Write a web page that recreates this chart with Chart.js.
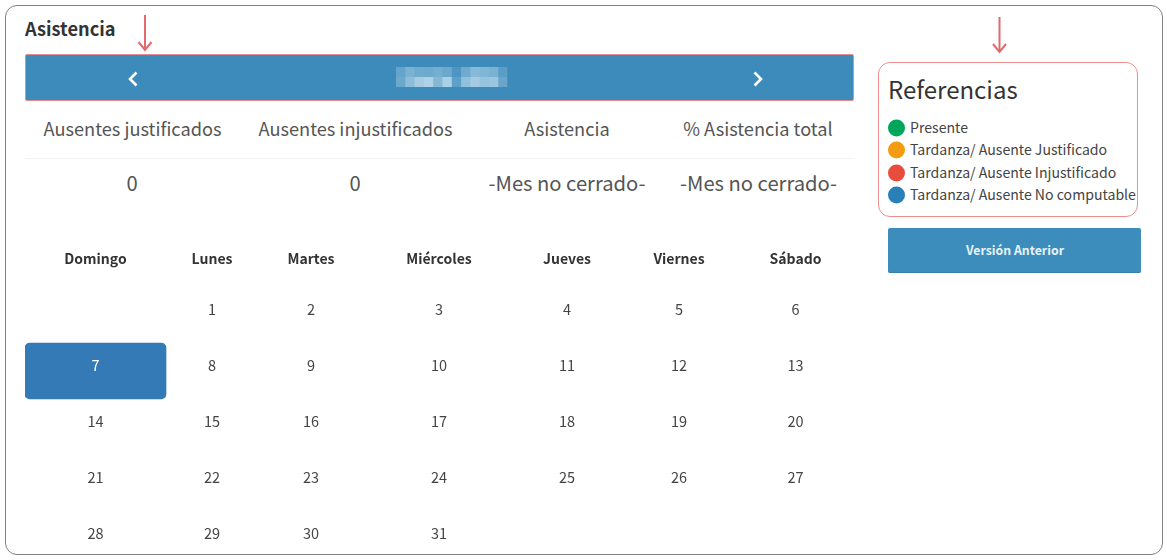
<!DOCTYPE html>
<html lang="es">
<head>
<meta charset="utf-8">
<title>Asistencia</title>
<script src="https://cdn.jsdelivr.net/npm/chart.js@4"></script>
<style>
html,body{margin:0;padding:0;background:#fff;width:1167px;height:560px;overflow:hidden;font-family:"Noto Sans CJK SC","Noto Sans",sans-serif;color:#333}
.a{position:absolute;white-space:nowrap}
.c{transform:translate(-50%,-50%)}
.m{transform:translateY(-50%)}
#frame{left:5px;top:5px;width:1156px;height:548px;border:1.5px solid #808080;border-radius:12px;box-sizing:content-box}
#band{left:25px;top:54px;width:829px;height:47px;background:#3d8bba;border:1px solid #e58c8e;box-sizing:border-box;border-radius:2px}
#rule{left:25px;top:158px;width:829px;height:1px;background:#f1f1f1}
#refs{left:878px;top:62px;width:260px;height:155px;border:1px solid #ea8e8e;border-radius:12px;box-sizing:border-box}
#btn{left:888px;top:228px;width:253px;height:45px;background:#3c8dbc;border-bottom:1px solid #367fa9;border-radius:2px;box-sizing:border-box}
.stat{font-size:18.2px;color:#555}
.val{font-size:20.2px;color:#555}
.li{font-size:14.1px;color:#444;left:910px}
.dot{width:17px;height:17px;border-radius:50%;left:888px}
#wrap{left:25px;top:240px;width:829px;height:320px}
</style>
</head>
<body>
<div class="a" id="frame"></div>
<div class="a m" style="left:25px;top:28px;font-size:18.2px;font-weight:700;color:#333">Asistencia</div>
<svg class="a" style="left:0;top:0" width="1167" height="110" fill="none">
  <path d="M145 15V49M138.5 42L145 50L151.5 42" stroke="#e06a6c" stroke-width="2"/>
  <path d="M999.5 17V51M993 44L999.5 52L1006 44" stroke="#e06a6c" stroke-width="2"/>
</svg>
<div class="a" id="band"></div>
<svg class="a" style="left:0;top:54px;filter:blur(.5px)" width="1167" height="47">
  <g transform="translate(396,13)">
    <rect x="0" width="10" height="10" fill="#66a5cb"/><rect x="9.3" width="10" height="10" fill="#7ab2d2"/><rect x="18.6" width="10" height="10" fill="#6fabce"/><rect x="27.9" width="10" height="10" fill="#6eaacd"/><rect x="37.2" width="10" height="10" fill="#74aed0"/><rect x="46.5" width="10" height="10" fill="#6ca8cd"/><rect x="55.8" width="10" height="10" fill="#4f95c1"/><rect x="65.1" width="10" height="10" fill="#6fabd0"/><rect x="74.4" width="10" height="10" fill="#86bad8"/><rect x="83.7" width="10" height="10" fill="#7fb5d5"/><rect x="93" width="10" height="10" fill="#7ab2d3"/><rect x="102.3" width="9" height="10" fill="#5a9dc6"/>
    <rect x="0" y="10" width="10" height="10" fill="#6aa8ce"/><rect x="9.3" y="10" width="10" height="10" fill="#8dbdd9"/><rect x="18.6" y="10" width="10" height="10" fill="#a6cce2"/><rect x="27.9" y="10" width="10" height="10" fill="#afd2e6"/><rect x="37.2" y="10" width="10" height="10" fill="#86b8d6"/><rect x="46.5" y="10" width="10" height="10" fill="#aad0e5"/><rect x="55.8" y="10" width="10" height="10" fill="#5da0c8"/><rect x="65.1" y="10" width="10" height="10" fill="#8fc0dc"/><rect x="74.4" y="10" width="10" height="10" fill="#a5cbe2"/><rect x="83.7" y="10" width="10" height="10" fill="#96c3dd"/><rect x="93" y="10" width="10" height="10" fill="#9cc6df"/><rect x="102.3" y="10" width="9" height="10" fill="#6aa6cb"/>
  </g>
</svg>
<svg class="a" style="left:0;top:54px" width="1167" height="47" fill="none" stroke="#fff" stroke-width="2.6">
  <path d="M136.5 18.5L130 25L136.5 31.5"/><path d="M754.5 18.5L761 25L754.5 31.5"/>
</svg>

<div class="a c stat" style="left:132.5px;top:127.5px">Ausentes justificados</div>
<div class="a c stat" style="left:355.5px;top:127.5px">Ausentes injustificados</div>
<div class="a c stat" style="left:567px;top:127.5px">Asistencia</div>
<div class="a c stat" style="left:758px;top:127.5px">% Asistencia total</div>
<div class="a" id="rule"></div>
<div class="a c val" style="left:132px;top:182px">0</div>
<div class="a c val" style="left:355px;top:182px">0</div>
<div class="a c val" style="left:567px;top:182px">-Mes no cerrado-</div>
<div class="a c val" style="left:758.5px;top:182px">-Mes no cerrado-</div>

<div class="a" id="refs"></div>
<div class="a m" style="left:888px;top:87.5px;font-size:24px;color:#333">Referencias</div>
<div class="a m dot" style="top:127.5px;background:#00a65a"></div><div class="a m li" style="top:126.5px">Presente</div>
<div class="a m dot" style="top:150px;background:#f39c12"></div><div class="a m li" style="top:149px">Tardanza/ Ausente Justificado</div>
<div class="a m dot" style="top:172.5px;background:#e74c3c"></div><div class="a m li" style="top:171.5px">Tardanza/ Ausente Injustificado</div>
<div class="a m dot" style="top:195px;background:#2980b9"></div><div class="a m li" style="top:194px">Tardanza/ Ausente No computable</div>
<div class="a" id="btn"></div>
<div class="a c" style="left:1015px;top:250px;font-size:12.3px;font-weight:700;color:#e8f3fa">Versión Anterior</div>

<div class="a" id="wrap"><canvas id="cal" width="829" height="320"></canvas></div>

<script>
const weekdays = ['Domingo','Lunes','Martes','Miércoles','Jueves','Viernes','Sábado'];
const week1 = [null,1,2,3,4,5,6];
const week2 = [7,8,9,10,11,12,13];
const week3 = [14,15,16,17,18,19,20];
const week4 = [21,22,23,24,25,26,27];
const week5 = [28,29,30,31,null,null,null];
const weeks = [week1,week2,week3,week4,week5];
const selectedDay = 7;

// HTML-table style columns: unequal widths, a category axis otherwise
const colWidths = [141,92,106,150,106,118,115];
class TableScale extends Chart.CategoryScale {
  getPixelForValue(value) {
    const i = typeof value === 'number' ? value : this.parse(value);
    let x = this.left;
    for (let k = 0; k < i; k++) x += colWidths[k];
    return x + colWidths[i] / 2;
  }
  getPixelForTick(index) { return this.getPixelForValue(this.ticks[index].value); }
}
TableScale.id = 'tableColumns';
TableScale.defaults = {};
Chart.register(TableScale);

const cells = [];
weeks.forEach((w, r) => w.forEach((d, c) => { if (d !== null) cells.push({x: weekdays[c], y: r, day: d}); }));
const selected = cells.find(c => c.day === selectedDay);

const dayLabels = {
  id: 'dayLabels',
  afterDatasetsDraw(chart) {
    const {ctx} = chart, xs = chart.scales.x, ys = chart.scales.y;
    ctx.save();
    ctx.font = '14.5px "Noto Sans CJK SC","Noto Sans",sans-serif';
    ctx.textAlign = 'center';
    ctx.textBaseline = 'middle';
    cells.forEach(c => {
      ctx.fillStyle = c.day === selectedDay ? '#ffffff' : '#444444';
      ctx.fillText(String(c.day), xs.getPixelForValue(c.x), ys.getPixelForValue(c.y) - 5.5);
    });
    ctx.restore();
  }
};

new Chart(document.getElementById('cal'), {
  type: 'bar',
  data: {
    labels: weekdays,
    datasets: [
      {
        type: 'bar',
        data: [{x: selected.x, y: [selected.y - 0.5, selected.y + 0.5]}],
        backgroundColor: '#337ab7',
        borderRadius: 5,
        borderSkipped: false,
        barThickness: 141,
        grouped: false
      },
      {
        type: 'scatter',
        data: cells,
        pointRadius: 0,
        showLine: false
      }
    ]
  },
  plugins: [dayLabels],
  options: {
    responsive: false,
    animation: false,
    layout: {padding: 0},
    plugins: {legend: {display: false}, tooltip: {enabled: false}},
    scales: {
      x: {
        type: 'tableColumns',
        position: 'top',
        labels: weekdays,
        offset: false,
        grid: {display: false, drawTicks: false},
        border: {display: false},
        afterFit(s) { s.height = 47; },
        ticks: {
          autoSkip: false, maxRotation: 0, padding: 19.5,
          color: '#333333',
          font: {family: '"Noto Sans CJK SC","Noto Sans",sans-serif', size: 14, weight: '700'}
        }
      },
      y: {
        type: 'linear',
        display: false,
        reverse: true,
        min: -0.5,
        max: 4.375
      }
    }
  }
});
</script>
</body>
</html>
